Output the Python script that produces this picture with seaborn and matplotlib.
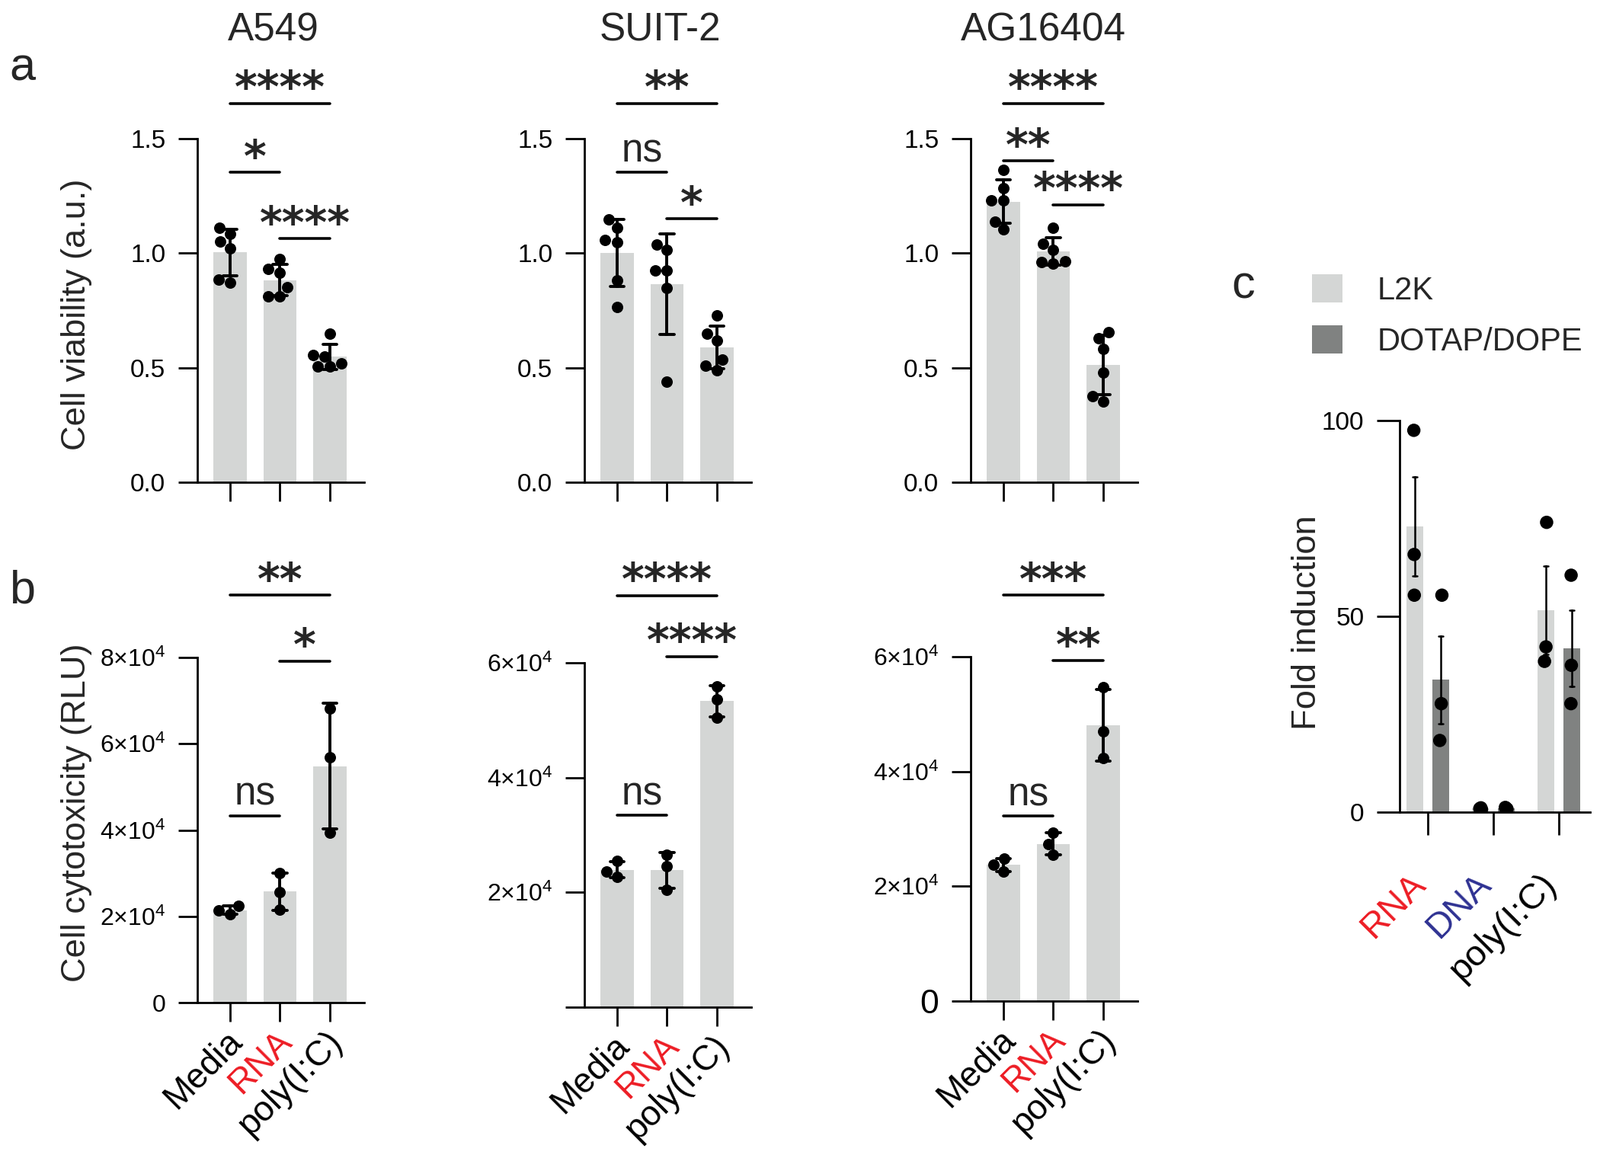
import matplotlib
matplotlib.use("Agg")
import matplotlib.pyplot as plt
from matplotlib.transforms import ScaledTranslation
import pandas as pd
import seaborn as sns

# ---------------- data ----------------
groups = ["Media", "RNA", "poly(I:C)"]
cell_lines = ["A549", "SUIT-2", "AG16404"]

# a: cell viability (a.u.), six replicates per condition
a549_viability = [[1.11, 1.085, 1.05, 1.02, 0.87, 0.885],
                  [0.975, 0.93, 0.915, 0.85, 0.81, 0.81],
                  [0.65, 0.555, 0.55, 0.52, 0.505, 0.505]]
suit2_viability = [[1.147, 1.11, 1.056, 1.049, 0.883, 0.764],
                   [1.038, 1.014, 0.923, 0.923, 0.847, 0.44],
                   [0.728, 0.649, 0.62, 0.534, 0.508, 0.49]]
ag16404_viability = [[1.363, 1.284, 1.23, 1.23, 1.139, 1.103],
                     [1.11, 1.04, 1.015, 0.966, 0.96, 0.955],
                     [0.656, 0.627, 0.581, 0.48, 0.375, 0.353]]

# b: cell cytotoxicity (RLU), three replicates per condition
a549_cytotox = [[20500, 22400, 21300],
                [30000, 25600, 21500],
                [68200, 56800, 39300]]
suit2_cytotox = [[22700, 25500, 23600],
                 [26600, 24500, 20400],
                 [55900, 53600, 50400]]
ag16404_cytotox = [[24800, 22600, 23800],
                   [25500, 29400, 27300],
                   [54700, 47000, 42400]]

# significance brackets: (from, to, height, label)
a549_viab_sig = [(0, 2, 1.654, "****"), (0, 1, 1.353, "*"), (1, 2, 1.064, "****")]
suit2_viab_sig = [(0, 2, 1.654, "**"), (0, 1, 1.353, "ns"), (1, 2, 1.15, "*")]
ag16404_viab_sig = [(0, 2, 1.654, "****"), (0, 1, 1.402, "**"), (1, 2, 1.212, "****")]
a549_cyto_sig = [(0, 2, 94400, "**"), (1, 2, 79200, "*"), (0, 1, 43300, "ns")]
suit2_cyto_sig = [(0, 2, 71700, "****"), (1, 2, 61100, "****"), (0, 1, 33400, "ns")]
ag16404_cyto_sig = [(0, 2, 70700, "***"), (1, 2, 59300, "**"), (0, 1, 32200, "ns")]

# c: fold induction
c_groups = ["RNA", "DNA", "poly(I:C)"]
c_reagents = ["L2K", "DOTAP/DOPE"]
l2k_fold = [[97.5, 65.8, 55.4], [0.7, 0.9, 1.1], [74.0, 42.2, 38.5]]
dotap_fold = [[55.4, 27.7, 18.3], [0.8, 1.0, 1.2], [60.5, 37.5, 27.7]]

# ---------------- style ----------------
sns.set_style("ticks")
plt.rcParams.update({
    "font.family": ["Liberation Sans", "DejaVu Sans"],
    "mathtext.fontset": "custom",
    "mathtext.rm": "Liberation Sans",
    "axes.linewidth": 1.0,
    "xtick.major.width": 1.0,
    "ytick.major.width": 1.0,
    "xtick.color": "black",
    "ytick.color": "black",
    "axes.edgecolor": "black",
})

bar_gray = "#d4d6d5"
dark_gray = "#808281"
red = "#ed1c24"
blue = "#2e3192"
label_colors = ["black", red, "black"]

W, H = 2100, 1520
fig = plt.figure(figsize=(W / 200, H / 200), dpi=200)
fig.patch.set_facecolor("white")


def add_ax(x0, x1, y0, y1):
    return fig.add_axes([x0 / W, 1 - y1 / H, (x1 - x0) / W, (y1 - y0) / H])


def long_frame(values):
    rows = [(g, v) for g, vals in zip(groups, values) for v in vals]
    return pd.DataFrame(rows, columns=["group", "value"])


def bar_panel(ax, values, sig):
    df = long_frame(values)
    sns.barplot(data=df, x="group", y="value", order=groups, color=bar_gray,
                saturation=1, width=0.66, errorbar="sd", capsize=0.28,
                linewidth=0, err_kws={"color": "black", "linewidth": 1.4},
                ax=ax)
    sns.swarmplot(data=df, x="group", y="value", order=groups, color="black",
                  size=5.4, ax=ax, zorder=3)
    for i, j, y, lab in sig:
        ax.plot([i, j], [y, y], color="black", lw=1.3, clip_on=False)
        if lab == "ns":
            ax.annotate(lab, xy=((i + j) / 2, y), xytext=(0, 5),
                        textcoords="offset points", ha="center", va="baseline",
                        fontsize=18.5, annotation_clip=False)
        else:
            ax.annotate(lab, xy=((i + j) / 2, y), xytext=(0, 0.5),
                        textcoords="offset points", ha="center", va="baseline",
                        fontsize=20.5, fontweight="bold", family="DejaVu Sans",
                        annotation_clip=False)
    ax.set_xlim(-0.656, 2.687)
    ax.set_xlabel("")
    ax.set_ylabel("")
    sns.despine(ax=ax)
    ax.tick_params(length=9, width=1.0, pad=6, labelsize=12, direction="out")


def rotate_labels(ax, colors, dx_px):
    offset = ScaledTranslation(dx_px / 200, 0, fig.dpi_scale_trans)
    for lbl, col in zip(ax.get_xticklabels(), colors):
        lbl.set_rotation(45)
        lbl.set_ha("right")
        lbl.set_va("center")
        lbl.set_rotation_mode("anchor")
        lbl.set_color(col)
        lbl.set_transform(lbl.get_transform() + offset)


col_x = [(259, 478), (767, 986), (1274, 1493)]
title_x = [359, 866, 1369]

# ---- row a ----
viab = [a549_viability, suit2_viability, ag16404_viability]
viab_sig = [a549_viab_sig, suit2_viab_sig, ag16404_viab_sig]
for k in range(3):
    ax = add_ax(col_x[k][0], col_x[k][1], 182, 633)
    bar_panel(ax, viab[k], viab_sig[k])
    ax.set_ylim(0, 1.5)
    ax.set_yticks([0, 0.5, 1.0, 1.5], ["0.0", "0.5", "1.0", "1.5"])
    ax.set_xticks([0, 1, 2], ["", "", ""])
    if k == 0:
        ax.set_ylabel("Cell viability (a.u.)", fontsize=16.3)
        ax.yaxis.set_label_coords(-0.63, 0.488)
    fig.text(title_x[k] / W, 1 - 53 / H, cell_lines[k], ha="center",
             va="baseline", fontsize=18.5)

# ---- row b ----
cyto = [a549_cytotox, suit2_cytotox, ag16404_cytotox]
cyto_sig = [a549_cyto_sig, suit2_cyto_sig, ag16404_cyto_sig]
row_b_y = [(863, 1316), (870, 1322), (862, 1314)]
b_ticks = [[0, 20000, 40000, 60000, 80000],
           [0, 20000, 40000, 60000],
           [0, 20000, 40000, 60000]]
for k in range(3):
    ax = add_ax(col_x[k][0], col_x[k][1], row_b_y[k][0], row_b_y[k][1])
    bar_panel(ax, cyto[k], cyto_sig[k])
    ticks = b_ticks[k]
    ax.set_ylim(0, ticks[-1])
    labels = ["" if k == 1 else "0"] + [
        r"$\mathregular{%d×10^{4}}$" % (t // 10000) for t in ticks[1:]]
    ax.set_yticks(ticks, labels)
    ax.tick_params(axis="y", labelsize=11.5)
    if k == 2:
        ax.get_yticklabels()[0].set_fontsize(16)
    if k == 0:
        ax.set_ylabel("Cell cytotoxicity (RLU)", fontsize=16.3)
        ax.yaxis.set_label_coords(-0.63, 0.55)
    ax.set_xticks([0, 1, 2], groups)
    ax.tick_params(axis="x", pad=7, labelsize=16.5)
    rotate_labels(ax, label_colors, 9)

# ---- panel c ----
rows = []
for r, vals in zip(c_reagents, [l2k_fold, dotap_fold]):
    for g, vv in zip(c_groups, vals):
        for v in vv:
            rows.append((g, r, v))
df_c = pd.DataFrame(rows, columns=["group", "reagent", "value"])

axc = add_ax(1837, 2087, 552, 1066)
sns.barplot(data=df_c, x="group", y="value", hue="reagent", order=c_groups,
            hue_order=c_reagents, palette=[bar_gray, dark_gray], saturation=1,
            width=0.8, gap=0.36, errorbar="se", capsize=0.13, linewidth=0,
            err_kws={"color": "black", "linewidth": 0.9}, ax=axc)
sns.stripplot(data=df_c, x="group", y="value", hue="reagent", order=c_groups,
              hue_order=c_reagents, dodge=True, jitter=0.04,
              palette=["black", "black"], size=6.3, legend=False, ax=axc,
              zorder=3)
axc.set_xlim(-0.43, 2.477)
axc.set_ylim(0, 100)
axc.set_yticks([0, 50, 100])
axc.set_xlabel("")
axc.set_ylabel("Fold induction", fontsize=16.3)
axc.yaxis.set_label_coords(-0.404, 0.484)
sns.despine(ax=axc)
axc.tick_params(length=10.8, width=1.0, pad=6, labelsize=12)
axc.set_xticks([0, 1, 2], c_groups)
axc.tick_params(axis="x", pad=21, labelsize=17)
rotate_labels(axc, [red, blue, "black"], -10)

sns.move_legend(axc, "upper left", bbox_to_anchor=(1722 / W, 1 - 360 / H),
                bbox_transform=fig.transFigure, frameon=False, title=None,
                fontsize=15, handlelength=0.95, handleheight=1.0,
                handletextpad=1.1, labelspacing=0.6, borderpad=0,
                borderaxespad=0)

# panel letters
fig.text(12 / W, 1 - 106 / H, "a", fontsize=22, va="baseline")
fig.text(12 / W, 1 - 792 / H, "b", fontsize=22, va="baseline")
fig.text(1616 / W, 1 - 391 / H, "c", fontsize=22, va="baseline")

fig.savefig("out.png", dpi=200, facecolor="white")
